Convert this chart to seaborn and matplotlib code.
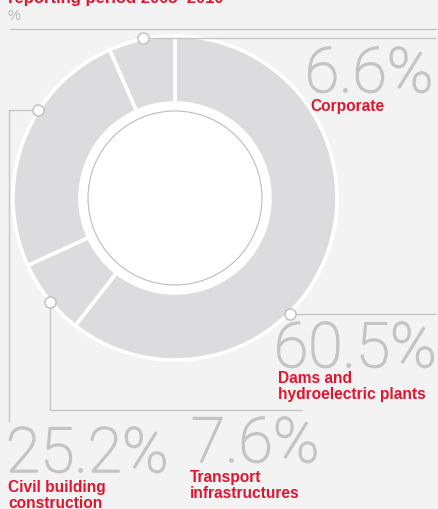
import numpy as np
import matplotlib
matplotlib.use("Agg")
import matplotlib.pyplot as plt
from matplotlib.patches import Circle
import matplotlib.patheffects as pe
import seaborn as sns

# Share of the total by business area, clockwise from 12 o'clock
segments = ["Dams and\nhydroelectric plants", "Transport\ninfrastructures",
            "Civil building\nconstruction", "Corporate"]
shares = [60.5, 7.6, 25.2, 6.6]

title = "reporting period 2005–2010"
unit = "%"

sns.set_theme(style="white")
plt.rcParams["font.family"] = ["Liberation Sans", "DejaVu Sans"]

RED = "#e3142f"
NUM_GRAY = "#c4c4c4"
LINE_GRAY = "#c6c6c6"
RING = "#dcdcde"
BG = "#f3f3f3"

W, H = 438, 510
fig = plt.figure(figsize=(W / 100, H / 100), dpi=100, facecolor=BG)
ax = fig.add_axes([0, 0, 1, 1])

cx, cy, R, r_in = 175, 199, 162, 95
ring_colors = sns.color_palette([RING] * len(shares))
ax.pie(shares, center=(cx, cy), radius=R, startangle=-90, counterclock=True,
       colors=ring_colors, frame=True,
       wedgeprops=dict(width=R - r_in, edgecolor="white", linewidth=2.6))

# white hole with a thin grey ring inside it
ax.add_patch(Circle((cx, cy), r_in + 1, fc="white", ec="none", zorder=3))
ax.add_patch(Circle((cx, cy), 87, fc="white", ec="#bcbcbc", lw=0.8, zorder=4))

ax.set_xlim(0, W)
ax.set_ylim(H, 0)
ax.set_aspect("auto")
ax.axis("off")

# header rule
ax.plot([10, 436], [30, 30], color=LINE_GRAY, lw=1.0, zorder=2)

# leader lines: anchor angle on the ring (deg clockwise from top) and path
anchor_angles = {"Corporate": 348.5, "Civil": 302.5, "Transport": 230.2, "Dams": 135.2}

def anchor(deg, rad=R + 1):
    t = np.deg2rad(deg)
    return cx + rad * np.sin(t), cy - rad * np.cos(t)

leaders = {
    "Corporate": lambda p: ([p[0], 436], [p[1], p[1]]),
    "Civil": lambda p: ([p[0], 9, 9], [p[1], p[1], 423]),
    "Transport": lambda p: ([p[0], p[0], 302], [p[1], 411, 411]),
    "Dams": lambda p: ([p[0], 436], [p[1], p[1]]),
}
for key, deg in anchor_angles.items():
    p = anchor(deg)
    xs, ys = leaders[key](p)
    ax.plot(xs, ys, color=LINE_GRAY, lw=1.0, zorder=2, solid_capstyle="butt")
    ax.plot([p[0]], [p[1]], marker="o", ms=8, mfc="white", mec="#bdbdbd",
            mew=1.0, zorder=6)

# value and category labels; thin digits get a light stroke for weight
num_font = dict(family=["Roboto", "DejaVu Sans"], fontweight="light",
                fontsize=45, color=NUM_GRAY, va="baseline", ha="left",
                path_effects=[pe.withStroke(linewidth=1.1, foreground=NUM_GRAY)])
cat_font = dict(fontweight="bold", fontsize=11.2, color=RED, va="baseline",
                ha="left", linespacing=1.1)

label_pos = {
    # segment index: (value x, value baseline, label x, label first baseline)
    3: (305, 93, 310, 111),
    0: (274, 368, 278, 383),
    2: (6, 473, 8, 492),
    1: (191, 463, 190, 482),
}
for i, (vx, vy, lx, ly) in label_pos.items():
    ax.text(vx, vy, f"{shares[i]}%", **num_font)
    lines = segments[i].split("\n")
    for k, line in enumerate(lines):
        ax.text(lx, ly + k * 16.5, line, **cat_font)

ax.text(8, 3, title, fontweight="bold", fontsize=12, color=RED,
        va="baseline", ha="left")
ax.text(8, 20, unit, fontsize=10.5, color="#b5b5b5", va="baseline", ha="left")

fig.savefig("out.png", dpi=100, facecolor=BG)
